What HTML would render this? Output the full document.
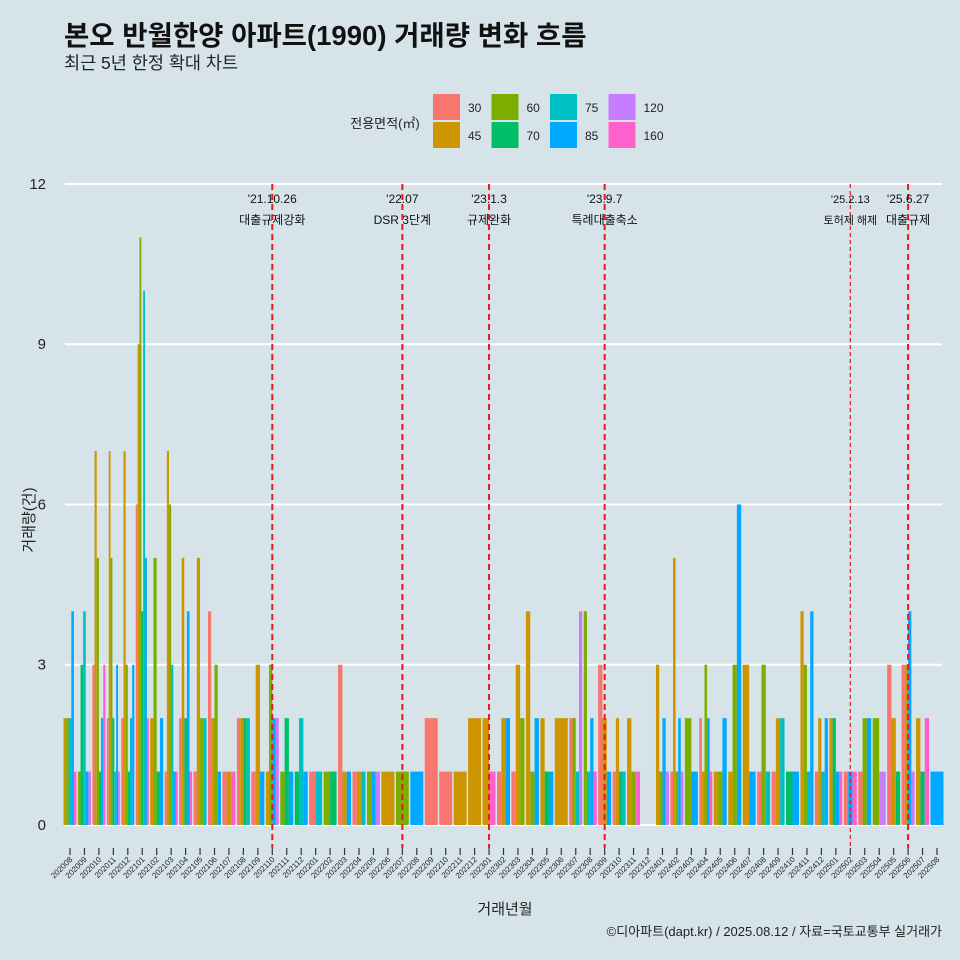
<!DOCTYPE html>
<html><head><meta charset="utf-8"><style>
body{margin:0;background:#D6E4EA;}
svg{display:block;font-family:"Liberation Sans","Noto Sans CJK KR",sans-serif;}
</style></head><body>
<svg id="c" width="960" height="960" viewBox="0 0 960 960">
<rect width="960" height="960" fill="#D6E4EA"/>
<text x="64" y="45" font-size="27.5" font-weight="bold" fill="#111">본오 반월한양 아파트(1990) 거래량 변화 흐름</text>
<text x="64" y="69" font-size="17.5" fill="#222">최근 5년 한정 확대 차트</text>
<g id="legend">
<text x="385" y="128" font-size="13" text-anchor="middle" fill="#222">전용면적(㎡)</text>
</g>
<g id="grid"></g><g id="bars"></g><g id="events"></g><g id="axes"></g>
<text x="505" y="914" font-size="15" text-anchor="middle" fill="#222">거래년월</text>
<text transform="translate(34,520) rotate(-90)" font-size="15" text-anchor="middle" fill="#222">거래량(건)</text>
<text x="942" y="936" font-size="13" text-anchor="end" fill="#222">©디아파트(dapt.kr) / 2025.08.12 / 자료=국토교통부 실거래가</text>
</svg>
<script>
const areas=["30","45","60","70","75","85","120","160"];
const colors=["#F8766D","#CD9600","#7CAE00","#00BE67","#00BFC4","#00A9FF","#C77CFF","#FF61CC"];
const yTicks=[0,3,6,9,12];
const months=["202008","202009","202010","202011","202012","202101","202102","202103","202104","202105","202106","202107","202108","202109","202110","202111","202112","202201","202202","202203","202204","202205","202206","202207","202208","202209","202210","202211","202212","202301","202302","202303","202304","202305","202306","202307","202308","202309","202310","202311","202312","202401","202402","202403","202404","202405","202406","202407","202408","202409","202410","202411","202412","202501","202502","202503","202504","202505","202506","202507","202508"];
const counts=[
[0,2,2,0,2,4,0,1],[0,0,1,3,4,1,1,0],[3,7,5,1,0,2,0,3],[2,7,5,2,1,3,1,0],[2,7,3,1,2,3,0,0],
[6,9,11,4,10,5,0,2],[0,2,5,1,0,2,0,0],[1,7,6,0,3,1,0,1],[2,5,0,2,0,4,0,1],[1,5,2,0,2,0,0,0],
[4,2,3,0,0,1,0,0],[1,1,0,0,0,0,0,1],[2,2,0,2,2,0,0,0],[1,3,0,0,0,1,0,0],[0,1,3,0,0,2,2,0],
[0,0,1,2,0,1,0,0],[0,0,0,1,2,1,0,0],[1,0,0,0,1,0,0,0],[0,0,1,1,0,0,0,0],[3,1,0,0,0,1,0,0],
[1,1,0,0,1,0,0,0],[0,0,1,0,0,1,1,0],[0,1,0,0,0,0,0,0],[0,0,1,0,0,0,0,0],[0,0,0,0,0,1,0,0],
[2,0,0,0,0,0,0,0],[1,0,0,0,0,0,0,0],[0,1,0,0,0,0,0,0],[0,2,0,0,0,0,0,0],[0,2,0,0,0,0,0,1],
[1,2,0,0,0,2,0,0],[1,3,2,0,0,0,0,0],[0,4,1,0,0,2,0,0],[0,2,0,1,0,1,0,0],[0,2,0,0,0,0,0,0],
[2,0,2,0,1,0,4,0],[0,0,4,0,1,2,0,1],[3,2,0,0,0,1,0,0],[1,2,0,1,1,0,0,0],[0,2,1,0,0,0,0,1],
[0,0,0,0,0,0,0,0],[0,3,1,0,0,2,1,0],[1,5,1,0,0,2,1,0],[0,0,2,0,0,1,0,0],[2,1,3,0,0,2,0,1],
[0,1,1,0,0,2,0,0],[0,1,3,0,0,6,0,0],[0,3,0,0,0,1,0,0],[1,0,3,0,1,0,0,0],[1,2,0,0,2,0,0,0],
[0,0,0,1,0,1,0,0],[0,4,3,0,1,4,0,0],[1,2,0,0,1,2,0,0],[0,2,0,2,0,1,0,1],[1,0,0,0,0,1,0,1],
[1,0,2,0,0,2,0,0],[0,0,2,0,0,0,1,0],[3,2,0,1,0,0,0,0],[3,3,0,0,0,4,1,0],[0,2,0,1,0,0,0,2],
[0,0,0,0,0,1,0,0]];
const eventMonths=["202110","202207","202301","202309","202502","202506"];
const eventDates=["'21.10.26","'22.07","'23.1.3","'23.9.7","'25.2.13","'25.6.27"];
const eventTexts=["대출규제강화","DSR 3단계","규제완화","특례대출축소","토허제 해제","대출규제"];
const NS="http://www.w3.org/2000/svg";
const X0=70,DX=14.45,Y0=825,DY=53.42;
const xs=i=>X0+i*DX, ys=v=>Y0-v*DY;
function mk(t,a,p){const e=document.createElementNS(NS,t);for(const k in a)e.setAttribute(k,a[k]);p.appendChild(e);return e;}
const G=document.getElementById('grid'),B=document.getElementById('bars'),E=document.getElementById('events'),A=document.getElementById('axes'),L=document.getElementById('legend');
yTicks.forEach(t=>{
 const l=mk('line',{x1:65,x2:942,y1:ys(t),y2:ys(t),stroke:'#fff','stroke-width':2},G);
 
 
 const tx=mk('text',{x:46,y:ys(t)+5,'font-size':15,'text-anchor':'end',fill:'#222'},A);
 tx.textContent=t;
 
 
});
months.forEach((m,i)=>{
 const row=counts[i];const present=[];row.forEach((v,k)=>{if(v>0)present.push(k);});
 const gw=DX*0.9,bw=present.length?gw/present.length:0;
 present.forEach((k,j)=>{
  const r=mk('rect',{x:xs(i)-gw/2+j*bw,y:ys(row[k]),width:bw,height:row[k]*DY,fill:colors[k]},B);
  
  
 });
 const tk=mk('line',{x1:xs(i),x2:xs(i),y1:848,y2:855,stroke:'#333','stroke-width':1.2},A);
 
 
 const tl=mk('text',{transform:`translate(${xs(i)+3},860) rotate(-45)`,'font-size':8,'text-anchor':'end',fill:'#222'},A);
 tl.textContent=m;
 
 
});
eventMonths.forEach((m,j)=>{
 const x=xs(months.indexOf(m));
 const thin=m==="202502";
 const l=mk('line',{x1:x,x2:x,y1:184,y2:848,stroke:'#E8191C','stroke-width':thin?1.2:2,'stroke-dasharray':thin?'4,3':'6,4'},E);
 
 
 const fs=thin?11:12;
 const t1=mk('text',{x:x,y:203,'font-size':fs,'text-anchor':'middle',fill:'#111'},E);
 t1.textContent=eventDates[j];
 
 
 const t2=mk('text',{x:x,y:224,'font-size':fs,'text-anchor':'middle',fill:'#111'},E);
 t2.textContent=eventTexts[j];
 
 
});
areas.forEach((a,k)=>{
 const col=Math.floor(k/2),row=k%2;
 const x=433+col*58.5,y=94+row*28;
 const r=mk('rect',{x:x,y:y,width:27,height:26,fill:colors[k]},L);
 
 
 const t=mk('text',{x:x+35,y:y+18,'font-size':12,fill:'#222'},L);
 t.textContent=a;
 
 
});
</script>
</body></html>
